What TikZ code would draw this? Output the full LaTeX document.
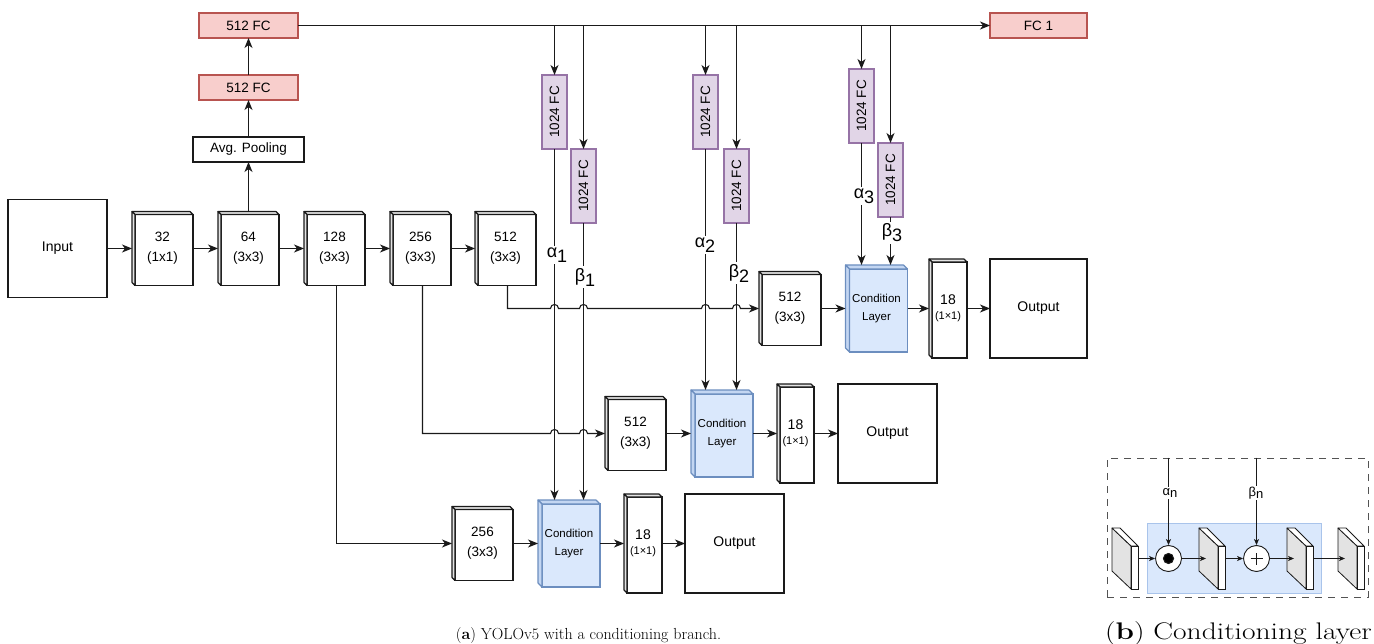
\documentclass[tikz,border=0pt]{standalone}
\usepackage{fontspec}
\setsansfont{Liberation Sans}
\usetikzlibrary{arrows.meta,backgrounds}
\definecolor{redf}{HTML}{F8CECC}\definecolor{reds}{HTML}{B85450}
\definecolor{purf}{HTML}{E1D5E7}\definecolor{purs}{HTML}{9673A6}
\definecolor{bluf}{HTML}{DAE8FC}\definecolor{blus}{HTML}{6C8EBF}
\definecolor{blul}{HTML}{A9C4EB}\definecolor{bluside}{HTML}{C3D6F2}
\definecolor{ln}{HTML}{1A1A1A}\definecolor{slabgray}{HTML}{E3E3E3}
\newcommand\setfs[2]{\fontsize{#1}{#2}\selectfont}
\newcommand\gsub[1]{\raisebox{-5pt}{#1}}
\newcommand\nsub[1]{\raisebox{-2.5pt}{#1}}
% cube faces: name, depth, front fill, side fill, stroke
\newcommand\cubefaces[5]{%
  \begin{pgfonlayer}{background}
  \filldraw[draw=#5,fill=#3,line width=1.1pt]
     ([xshift=#2pt,yshift=-#2pt]#1.north west) rectangle (#1.south east);
  \filldraw[draw=#5,fill=#4,line width=1.1pt,line join=round]
     (#1.north west) -- ([xshift=-#2pt]#1.north east) -- ([yshift=-#2pt]#1.north east)
     -- ([xshift=#2pt,yshift=-#2pt]#1.north west) -- cycle;
  \filldraw[draw=#5,fill=#4,line width=1.1pt,line join=round]
     (#1.north west) -- ([xshift=#2pt,yshift=-#2pt]#1.north west)
     -- ([xshift=#2pt]#1.south west) -- ([yshift=#2pt]#1.south west) -- cycle;
  \end{pgfonlayer}}
\newcommand\slab[3]{%
  \filldraw[slabline,fill=slabgray] (#2,#3) -- (#2+19,#3+18) -- (#2+19,#3+61) -- (#2,#3+43) -- cycle;
  \filldraw[slabline,fill=white] (#2,#3) -- (#2+8,#3) -- (#2+26,#3+18) -- (#2+19,#3+18) -- cycle;
  \node[slabfront] (#1) at (#2+22.5,#3+39.5) {};
  \coordinate (#1in) at (#2+7,#3+30.5);}
\begin{document}
\begin{tikzpicture}[x=1pt,y=-1pt,
  every node/.style={font=\sffamily},
  plain/.style={draw=ln,line width=1.1pt,fill=white,inner sep=0pt,outer sep=0pt,align=center},
  cube/.style={inner sep=0pt,outer sep=0pt,minimum width=61pt,minimum height=74pt,align=center,font=\sffamily\setfs{13.5}{20}},
  ccube/.style={inner sep=0pt,outer sep=0pt,minimum width=62pt,minimum height=87pt,align=center,font=\sffamily\setfs{11.5}{18}},
  tcube/.style={inner sep=0pt,outer sep=0pt,minimum width=38pt,minimum height=99pt,align=center,font=\sffamily\setfs{14}{18}},
  redfc/.style={draw=reds,fill=redf,line width=1.1pt,inner sep=0pt,outer sep=0pt,minimum width=99pt,minimum height=25pt,font=\sffamily\setfs{13.5}{15}},
  purfc/.style={draw=purs,fill=purf,line width=1.1pt,inner sep=0pt,outer sep=0pt,minimum width=25pt,minimum height=74pt,font=\sffamily\setfs{13.5}{15}},
  arr/.style={draw=ln,line width=1.1pt,-{Stealth[length=10pt,width=8pt,inset=3pt]}},
  ln/.style={draw=ln,line width=1.1pt},
  glab/.style={fill=white,inner sep=1.5pt,font=\sffamily\setfs{18}{18}},
  slabline/.style={draw=ln,line width=0.8pt,line join=round},
  slabfront/.style={draw=ln,line width=0.8pt,fill=white,inner sep=0pt,outer sep=0pt,minimum width=7pt,minimum height=43pt},
  sarr/.style={draw=ln,line width=0.8pt,-{Stealth[length=6pt,width=5pt,inset=1.5pt]}},
  slab lab/.style={fill=white,inner sep=1pt,font=\sffamily\setfs{13}{13}}
]
\useasboundingbox (0,0) rectangle (1374,644);

% ---------- main backbone ----------
\node[plain,minimum width=99pt,minimum height=98pt,font=\sffamily\setfs{14}{16}] (input) at (57.5,248.5) {Input};
\node[cube] (b32)  at (162.5,248.5) {32\\(1x1)};
\node[cube] (b64)  at (248.5,248.5) {64\\(3x3)};
\node[cube] (b128) at (334.5,248.5) {128\\(3x3)};
\node[cube] (b256) at (420.5,248.5) {256\\(3x3)};
\node[cube] (b512a) at (505.5,248.5) {512\\(3x3)};
\foreach \n in {b32,b64,b128,b256,b512a} {\cubefaces{\n}{3}{white}{gray!22}{ln}}

\node[plain,minimum width=111pt,minimum height=25pt,font=\sffamily\setfs{13.5}{15}] (avg) at (248.5,149.5) {Avg. Pooling};
\node[redfc] (fc512b) at (248.5,87.5) {512 FC};
\node[redfc] (fc512a) at (248.5,25.5) {512 FC};
\node[redfc,minimum width=97pt] (fc1) at (1038.5,25.5) {FC 1};

% ---------- conditioning FCs ----------
\node[purfc] (fa1) at (554.5,112) {\rotatebox{90}{1024 FC}};
\node[purfc] (fb1) at (583.5,186) {\rotatebox{90}{1024 FC}};
\node[purfc] (fa2) at (705.5,112) {\rotatebox{90}{1024 FC}};
\node[purfc] (fb2) at (736.5,186) {\rotatebox{90}{1024 FC}};
\node[purfc] (fa3) at (861.5,106) {\rotatebox{90}{1024 FC}};
\node[purfc] (fb3) at (890.5,180) {\rotatebox{90}{1024 FC}};

% ---------- head rows ----------
\node[cube,minimum width=62pt] (b512b) at (790,308.5) {512\\(3x3)};
\node[ccube] (cl3) at (876.5,308.5) {Condition\\Layer};
\node[tcube] (o18c) at (948,308.5) {18\\[-3pt]{\setfs{11}{13}(1×1)}};
\node[plain,minimum width=97pt,minimum height=99pt,font=\sffamily\setfs{14}{16}] (out3) at (1038.5,308.5) {Output};

\node[cube] (b512m) at (635.5,433.5) {512\\(3x3)};
\node[ccube] (cl2) at (722,433.5) {Condition\\Layer};
\node[tcube,minimum width=37pt] (o18b) at (795.5,433.5) {18\\[-3pt]{\setfs{11}{13}(1×1)}};
\node[plain,minimum width=99pt,minimum height=99pt,font=\sffamily\setfs{14}{16}] (out2) at (887.5,433.5) {Output};

\node[cube] (b256l) at (482.5,543.5) {256\\(3x3)};
\node[ccube] (cl1) at (569,543.5) {Condition\\Layer};
\node[tcube] (o18a) at (643,543.5) {18\\[-3pt]{\setfs{11}{13}(1×1)}};
\node[plain,minimum width=99pt,minimum height=99pt,font=\sffamily\setfs{14}{16}] (out1) at (734.5,543.5) {Output};

\foreach \n in {b512b,b512m,b256l} {\cubefaces{\n}{3}{white}{gray!22}{ln}}
\foreach \n in {o18a,o18b,o18c} {\cubefaces{\n}{3}{white}{gray!22}{ln}}
\foreach \n in {cl1,cl2,cl3} {\cubefaces{\n}{4}{bluf}{bluside}{blus}}

% ---------- connectors: backbone ----------
\draw[arr] (input.east) -- (b32.west);
\draw[arr] (b32.east) -- (b64.west);
\draw[arr] (b64.east) -- (b128.west);
\draw[arr] (b128.east) -- (b256.west);
\draw[arr] (b256.east) -- (b512a.west);
\draw[arr] (b64.north) -- (avg.south);
\draw[arr] (avg.north) -- (fc512b.south);
\draw[arr] (fc512b.north) -- (fc512a.south);
\draw[arr] (fc512a.east) -- (fc1.west);

% top line to FCs
\foreach \f in {fa1,fb1,fa2,fb2,fa3,fb3} {\draw[arr] (\f.north |- fc512a.east) -- (\f.north);}

% FCs down to condition layers
\draw[arr] (fa1.south) -- (fa1.south |- cl1.north);
\draw[arr] (fb1.south) -- (fb1.south |- cl1.north);
\draw[arr] (fa2.south) -- (fa2.south |- cl2.north);
\draw[arr] (fb2.south) -- (fb2.south |- cl2.north);
\draw[arr] (fa3.south) -- (fa3.south |- cl3.north);
\draw[arr] (fb3.south) -- (fb3.south |- cl3.north);

% branch rows with line jumps
\draw[arr] ([xshift=2pt]b512a.south) -- (507.5,308.5)
  -- (550.5,308.5) .. controls (550.5,303.2) and (558.5,303.2) .. (558.5,308.5)
  -- (579.5,308.5) .. controls (579.5,303.2) and (587.5,303.2) .. (587.5,308.5)
  -- (701.5,308.5) .. controls (701.5,303.2) and (709.5,303.2) .. (709.5,308.5)
  -- (732.5,308.5) .. controls (732.5,303.2) and (740.5,303.2) .. (740.5,308.5)
  -- (b512b.west);
\draw[arr] ([xshift=2pt]b256.south) -- (422.5,433.5)
  -- (550.5,433.5) .. controls (550.5,428.2) and (558.5,428.2) .. (558.5,433.5)
  -- (579.5,433.5) .. controls (579.5,428.2) and (587.5,428.2) .. (587.5,433.5)
  -- (b512m.west);
\draw[arr] ([xshift=2pt]b128.south) -- (336.5,543.5) -- (b256l.west);

\draw[arr] (b512b.east) -- (cl3.west);
\draw[arr] (cl3.east) -- (o18c.west);
\draw[arr] (o18c.east) -- (out3.west);
\draw[arr] (b512m.east) -- (cl2.west);
\draw[arr] (cl2.east) -- (o18b.west);
\draw[arr] (o18b.east) -- (out2.west);
\draw[arr] (b256l.east) -- (cl1.west);
\draw[arr] (cl1.east) -- (o18a.west);
\draw[arr] (o18a.east) -- (out1.west);

% greek labels
\node[glab] (la1) at (557,255) {α\gsub{1}};
\node[glab] (lb1) at (585,277) {β\gsub{1}};
\node[glab] (la2) at (705,245) {α\gsub{2}};
\node[glab] (lb2) at (739,273) {β\gsub{2}};
\node[glab] (la3) at (864,196) {α\gsub{3}};
\node[glab] (lb3) at (892,233) {β\gsub{3}};

% ---------- panel (b) ----------
\node[draw=ln!75,dash pattern=on 7pt off 6pt,line width=1pt,inner sep=0pt,minimum width=261pt,minimum height=139pt] (pb) at (1237.5,527.5) {};
\node[draw=blul,fill=bluf,line width=1pt,inner sep=0pt,minimum width=174pt,minimum height=70pt] (pbin) at (1234,558) {};
\slab{s1}{1112}{528}
\slab{s2}{1199}{528}
\slab{s3}{1287}{528}
\slab{s4}{1338}{528}
\node[circle,draw=ln,line width=0.9pt,fill=white,minimum size=26pt,inner sep=0pt] (c1) at (1168.5,558.5) {};
\fill[ln] (c1.center) circle[radius=5pt];
\node[circle,draw=ln,line width=0.9pt,fill=white,minimum size=26pt,inner sep=0pt] (c2) at (1256.5,558.5) {};
\draw[ln,line width=1.4pt] ([xshift=-6pt]c2.center) -- ([xshift=6pt]c2.center);
\draw[ln,line width=1.4pt] ([yshift=-6pt]c2.center) -- ([yshift=6pt]c2.center);

\draw[sarr] (s1.east |- c1.west) -- (c1.west);
\draw[sarr] (c1.east) -- (s2in);
\draw[sarr] (s2.east |- c2.west) -- (c2.west);
\draw[sarr] (c2.east) -- (s3in);
\draw[sarr] (s3.east |- s4in) -- (s4in);
\draw[sarr] (c1 |- pb.north) -- (c1.north);
\draw[sarr] (c2 |- pb.north) -- (c2.north);
\node[slab lab] (lan) at (1170,493) {α\nsub{n}};
\node[slab lab] (lbn) at (1256,493) {β\nsub{n}};

% ---------- captions ----------
\node[anchor=base,font=\rmfamily\setfs{16}{16}] (capa) at (588.5,639) {(\textbf{a}) YOLOv5 with a conditioning branch.};
\node[anchor=base,font=\rmfamily\setfs{24}{24}] (capb) at (1238.5,639) {\scalebox{1.23}[1]{(\textbf{b}) Conditioning layer}};
\end{tikzpicture}
\end{document}
